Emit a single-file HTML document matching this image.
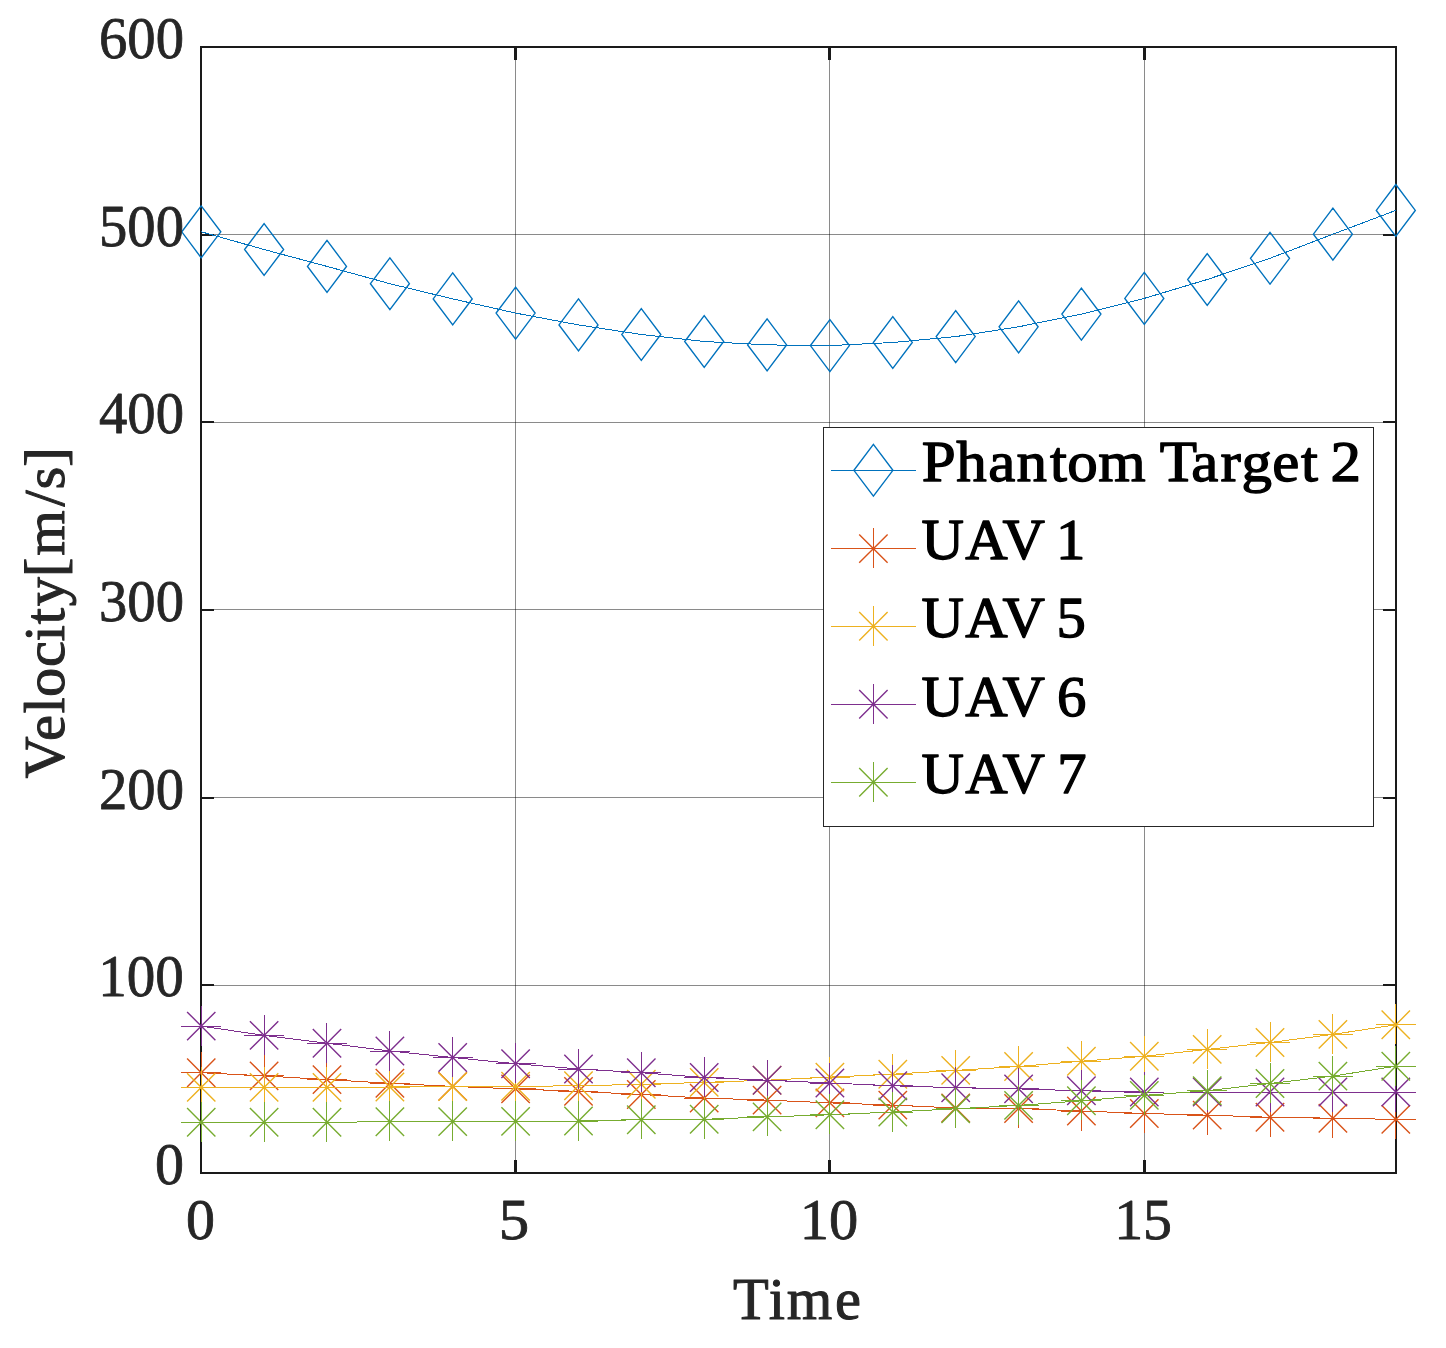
<!DOCTYPE html>
<html lang="en"><head><meta charset="utf-8"><title>Velocity vs Time</title>
<style>
html,body{margin:0;padding:0;background:#fff;}
body{width:1446px;height:1348px;overflow:hidden;}
svg{display:block;}
text{font-family:"Liberation Serif","DejaVu Serif",serif;}
.tk{fill:#262626;}
.lg{fill:#000;font-kerning:none;}
</style></head><body>
<svg width="1446" height="1348" viewBox="0 0 1446 1348">
<rect x="0" y="0" width="1446" height="1348" fill="#fff"/>
<g stroke="#000" stroke-opacity="0.46" stroke-width="1" fill="none">
<line x1="515.5" y1="47.0" x2="515.5" y2="1173.0"/>
<line x1="829.5" y1="47.0" x2="829.5" y2="1173.0"/>
<line x1="1144.5" y1="47.0" x2="1144.5" y2="1173.0"/>
<line x1="201.0" y1="985.5" x2="1396.0" y2="985.5"/>
<line x1="201.0" y1="797.5" x2="1396.0" y2="797.5"/>
<line x1="201.0" y1="609.5" x2="1396.0" y2="609.5"/>
<line x1="201.0" y1="422.5" x2="1396.0" y2="422.5"/>
<line x1="201.0" y1="234.5" x2="1396.0" y2="234.5"/>
</g>
<g stroke="#1a1a1a" fill="none">
<rect x="201.0" y="47.0" width="1195.0" height="1126.0" stroke-width="2"/>
<line x1="515.5" y1="1173.0" x2="515.5" y2="1160.0" stroke-width="3"/>
<line x1="515.5" y1="47.0" x2="515.5" y2="60.0" stroke-width="3"/>
<line x1="829.5" y1="1173.0" x2="829.5" y2="1160.0" stroke-width="3"/>
<line x1="829.5" y1="47.0" x2="829.5" y2="60.0" stroke-width="3"/>
<line x1="1144.5" y1="1173.0" x2="1144.5" y2="1160.0" stroke-width="3"/>
<line x1="1144.5" y1="47.0" x2="1144.5" y2="60.0" stroke-width="3"/>
<line x1="201.0" y1="985.0" x2="214.0" y2="985.0" stroke-width="2"/>
<line x1="1396.0" y1="985.0" x2="1383.0" y2="985.0" stroke-width="2"/>
<line x1="201.0" y1="798.0" x2="214.0" y2="798.0" stroke-width="2"/>
<line x1="1396.0" y1="798.0" x2="1383.0" y2="798.0" stroke-width="2"/>
<line x1="201.0" y1="610.0" x2="214.0" y2="610.0" stroke-width="2"/>
<line x1="1396.0" y1="610.0" x2="1383.0" y2="610.0" stroke-width="2"/>
<line x1="201.0" y1="422.0" x2="214.0" y2="422.0" stroke-width="2"/>
<line x1="1396.0" y1="422.0" x2="1383.0" y2="422.0" stroke-width="2"/>
<line x1="201.0" y1="235.0" x2="214.0" y2="235.0" stroke-width="2"/>
<line x1="1396.0" y1="235.0" x2="1383.0" y2="235.0" stroke-width="2"/>
</g>
<g stroke="#0072BD" fill="none" stroke-linejoin="miter" shape-rendering="crispEdges">
<polyline points="201.2,231.8 264.1,249.5 327.0,266.4 389.9,283.7 452.7,298.9 515.6,313.1 578.5,324.9 641.3,334.5 704.2,341.5 767.1,344.9 829.9,345.6 892.8,342.5 955.7,336.6 1018.6,326.8 1081.4,314.1 1144.3,298.4 1207.2,279.5 1270.0,258.3 1332.9,234.2 1395.8,210.4" stroke-width="1"/>
<path d="M201.2 205.9L220.8 231.8L201.2 257.8L181.8 231.8ZM264.1 223.6L283.6 249.5L264.1 275.4L244.6 249.5ZM327.0 240.4L346.5 266.4L327.0 292.3L307.5 266.4ZM389.9 257.8L409.4 283.7L389.9 309.6L370.4 283.7ZM452.7 272.9L472.2 298.9L452.7 324.8L433.2 298.9ZM515.6 287.2L535.1 313.1L515.6 339.1L496.1 313.1ZM578.5 298.9L598.0 324.9L578.5 350.8L559.0 324.9ZM641.3 308.6L660.8 334.5L641.3 360.4L621.8 334.5ZM704.2 315.6L723.7 341.5L704.2 367.4L684.7 341.5ZM767.1 318.9L786.6 344.9L767.1 370.8L747.6 344.9ZM829.9 319.7L849.4 345.6L829.9 371.6L810.4 345.6ZM892.8 316.6L912.3 342.5L892.8 368.4L873.3 342.5ZM955.7 310.7L975.2 336.6L955.7 362.6L936.2 336.6ZM1018.6 300.9L1038.1 326.8L1018.6 352.8L999.1 326.8ZM1081.4 288.2L1100.9 314.1L1081.4 340.1L1061.9 314.1ZM1144.3 272.4L1163.8 298.4L1144.3 324.3L1124.8 298.4ZM1207.2 253.6L1226.7 279.5L1207.2 305.4L1187.7 279.5ZM1270.0 232.4L1289.5 258.3L1270.0 284.2L1250.5 258.3ZM1332.9 208.2L1352.4 234.2L1332.9 260.1L1313.4 234.2ZM1395.8 184.5L1415.3 210.4L1395.8 236.3L1376.3 210.4Z" stroke-width="1.4" shape-rendering="geometricPrecision"/>
</g>
<g stroke="#D95319" fill="none" stroke-linejoin="miter" shape-rendering="crispEdges">
<polyline points="201.2,1072.7 264.1,1075.9 327.0,1079.6 389.9,1083.3 452.7,1086.4 515.6,1088.9 578.5,1091.4 641.3,1094.5 704.2,1098.1 767.1,1100.1 829.9,1102.9 892.8,1105.1 955.7,1108.0 1018.6,1108.5 1081.4,1111.0 1144.3,1113.5 1207.2,1115.1 1270.0,1117.3 1332.9,1118.2 1395.8,1119.4" stroke-width="1"/>
<path d="M181 1072.5H221M201.5 1052V1092M244 1075.5H284M264.5 1055V1095M307 1079.5H347M326.5 1059V1099M370 1083.5H410M389.5 1063V1103M433 1086.5H473M452.5 1066V1106M496 1088.5H536M515.5 1068V1108M558 1091.5H598M578.5 1071V1111M621 1094.5H661M641.5 1074V1114M684 1098.5H724M704.5 1078V1118M747 1100.5H787M767.5 1080V1120M810 1102.5H850M829.5 1082V1122M873 1105.5H913M892.5 1085V1125M936 1108.5H976M955.5 1088V1128M999 1108.5H1039M1018.5 1088V1128M1061 1111.5H1101M1081.5 1091V1131M1124 1113.5H1164M1144.5 1093V1133M1187 1115.5H1227M1207.5 1095V1135M1250 1117.5H1290M1270.5 1097V1137M1313 1118.5H1353M1332.5 1098V1138M1376 1119.5H1416M1395.5 1099V1139" stroke-width="1"/>
<path d="M187.1 1058.5L215.4 1086.9M187.1 1086.9L215.4 1058.5M249.9 1061.7L278.3 1090.1M249.9 1090.1L278.3 1061.7M312.8 1065.4L341.2 1093.8M312.8 1093.8L341.2 1065.4M375.7 1069.1L404.1 1097.5M375.7 1097.5L404.1 1069.1M438.5 1072.2L466.9 1100.6M438.5 1100.6L466.9 1072.2M501.4 1074.7L529.8 1103.1M501.4 1103.1L529.8 1074.7M564.3 1077.2L592.7 1105.6M564.3 1105.6L592.7 1077.2M627.1 1080.3L655.5 1108.7M627.1 1108.7L655.5 1080.3M690.0 1083.9L718.4 1112.3M690.0 1112.3L718.4 1083.9M752.9 1085.9L781.3 1114.3M752.9 1114.3L781.3 1085.9M815.7 1088.7L844.1 1117.1M815.7 1117.1L844.1 1088.7M878.6 1090.9L907.0 1119.3M878.6 1119.3L907.0 1090.9M941.5 1093.8L969.9 1122.2M941.5 1122.2L969.9 1093.8M1004.4 1094.3L1032.8 1122.7M1004.4 1122.7L1032.8 1094.3M1067.2 1096.8L1095.6 1125.2M1067.2 1125.2L1095.6 1096.8M1130.1 1099.3L1158.5 1127.7M1130.1 1127.7L1158.5 1099.3M1193.0 1100.9L1221.4 1129.3M1193.0 1129.3L1221.4 1100.9M1255.8 1103.1L1284.2 1131.5M1255.8 1131.5L1284.2 1103.1M1318.7 1104.0L1347.1 1132.4M1318.7 1132.4L1347.1 1104.0M1381.6 1105.2L1410.0 1133.6M1381.6 1133.6L1410.0 1105.2" stroke-width="1.4" shape-rendering="geometricPrecision"/>
</g>
<g stroke="#EDB120" fill="none" stroke-linejoin="miter" shape-rendering="crispEdges">
<polyline points="201.2,1087.4 264.1,1087.4 327.0,1087.4 389.9,1087.0 452.7,1086.6 515.6,1086.3 578.5,1085.8 641.3,1084.3 704.2,1082.4 767.1,1080.2 829.9,1077.1 892.8,1074.2 955.7,1070.4 1018.6,1066.5 1081.4,1061.2 1144.3,1056.3 1207.2,1049.4 1270.0,1042.5 1332.9,1034.4 1395.8,1024.8" stroke-width="1"/>
<path d="M181 1087.5H221M201.5 1067V1107M244 1087.5H284M264.5 1067V1107M307 1087.5H347M326.5 1067V1107M370 1087.5H410M389.5 1067V1107M433 1086.5H473M452.5 1066V1106M496 1086.5H536M515.5 1066V1106M558 1085.5H598M578.5 1065V1105M621 1084.5H661M641.5 1064V1104M684 1082.5H724M704.5 1062V1102M747 1080.5H787M767.5 1060V1100M810 1077.5H850M829.5 1057V1097M873 1074.5H913M892.5 1054V1094M936 1070.5H976M955.5 1050V1090M999 1066.5H1039M1018.5 1046V1086M1061 1061.5H1101M1081.5 1041V1081M1124 1056.5H1164M1144.5 1036V1076M1187 1049.5H1227M1207.5 1029V1069M1250 1042.5H1290M1270.5 1022V1062M1313 1034.5H1353M1332.5 1014V1054M1376 1024.5H1416M1395.5 1004V1044" stroke-width="1"/>
<path d="M187.1 1073.2L215.4 1101.6M187.1 1101.6L215.4 1073.2M249.9 1073.2L278.3 1101.6M249.9 1101.6L278.3 1073.2M312.8 1073.2L341.2 1101.6M312.8 1101.6L341.2 1073.2M375.7 1072.8L404.1 1101.2M375.7 1101.2L404.1 1072.8M438.5 1072.4L466.9 1100.8M438.5 1100.8L466.9 1072.4M501.4 1072.1L529.8 1100.5M501.4 1100.5L529.8 1072.1M564.3 1071.6L592.7 1100.0M564.3 1100.0L592.7 1071.6M627.1 1070.1L655.5 1098.5M627.1 1098.5L655.5 1070.1M690.0 1068.2L718.4 1096.6M690.0 1096.6L718.4 1068.2M752.9 1066.0L781.3 1094.4M752.9 1094.4L781.3 1066.0M815.7 1062.9L844.1 1091.3M815.7 1091.3L844.1 1062.9M878.6 1060.0L907.0 1088.4M878.6 1088.4L907.0 1060.0M941.5 1056.2L969.9 1084.6M941.5 1084.6L969.9 1056.2M1004.4 1052.3L1032.8 1080.7M1004.4 1080.7L1032.8 1052.3M1067.2 1047.0L1095.6 1075.4M1067.2 1075.4L1095.6 1047.0M1130.1 1042.1L1158.5 1070.5M1130.1 1070.5L1158.5 1042.1M1193.0 1035.2L1221.4 1063.6M1193.0 1063.6L1221.4 1035.2M1255.8 1028.3L1284.2 1056.7M1255.8 1056.7L1284.2 1028.3M1318.7 1020.2L1347.1 1048.6M1318.7 1048.6L1347.1 1020.2M1381.6 1010.6L1410.0 1039.0M1381.6 1039.0L1410.0 1010.6" stroke-width="1.4" shape-rendering="geometricPrecision"/>
</g>
<g stroke="#7E2F8E" fill="none" stroke-linejoin="miter" shape-rendering="crispEdges">
<polyline points="201.2,1026.1 264.1,1035.4 327.0,1043.2 389.9,1051.0 452.7,1057.5 515.6,1063.7 578.5,1069.0 641.3,1072.7 704.2,1077.5 767.1,1080.2 829.9,1083.0 892.8,1085.8 955.7,1087.7 1018.6,1088.9 1081.4,1090.8 1144.3,1092.0 1207.2,1092.0 1270.0,1092.0 1332.9,1092.0 1395.8,1092.0" stroke-width="1"/>
<path d="M181 1026.5H221M201.5 1006V1046M244 1035.5H284M264.5 1015V1055M307 1043.5H347M326.5 1023V1063M370 1051.5H410M389.5 1031V1071M433 1057.5H473M452.5 1037V1077M496 1063.5H536M515.5 1043V1083M558 1069.5H598M578.5 1049V1089M621 1072.5H661M641.5 1052V1092M684 1077.5H724M704.5 1057V1097M747 1080.5H787M767.5 1060V1100M810 1083.5H850M829.5 1063V1103M873 1085.5H913M892.5 1065V1105M936 1087.5H976M955.5 1067V1107M999 1088.5H1039M1018.5 1068V1108M1061 1090.5H1101M1081.5 1070V1110M1124 1092.5H1164M1144.5 1072V1112M1187 1092.5H1227M1207.5 1072V1112M1250 1092.5H1290M1270.5 1072V1112M1313 1092.5H1353M1332.5 1072V1112M1376 1092.5H1416M1395.5 1072V1112" stroke-width="1"/>
<path d="M187.1 1011.9L215.4 1040.3M187.1 1040.3L215.4 1011.9M249.9 1021.2L278.3 1049.6M249.9 1049.6L278.3 1021.2M312.8 1029.0L341.2 1057.4M312.8 1057.4L341.2 1029.0M375.7 1036.8L404.1 1065.2M375.7 1065.2L404.1 1036.8M438.5 1043.3L466.9 1071.7M438.5 1071.7L466.9 1043.3M501.4 1049.5L529.8 1077.9M501.4 1077.9L529.8 1049.5M564.3 1054.8L592.7 1083.2M564.3 1083.2L592.7 1054.8M627.1 1058.5L655.5 1086.9M627.1 1086.9L655.5 1058.5M690.0 1063.3L718.4 1091.7M690.0 1091.7L718.4 1063.3M752.9 1066.0L781.3 1094.4M752.9 1094.4L781.3 1066.0M815.7 1068.8L844.1 1097.2M815.7 1097.2L844.1 1068.8M878.6 1071.6L907.0 1100.0M878.6 1100.0L907.0 1071.6M941.5 1073.5L969.9 1101.9M941.5 1101.9L969.9 1073.5M1004.4 1074.7L1032.8 1103.1M1004.4 1103.1L1032.8 1074.7M1067.2 1076.6L1095.6 1105.0M1067.2 1105.0L1095.6 1076.6M1130.1 1077.8L1158.5 1106.2M1130.1 1106.2L1158.5 1077.8M1193.0 1077.8L1221.4 1106.2M1193.0 1106.2L1221.4 1077.8M1255.8 1077.8L1284.2 1106.2M1255.8 1106.2L1284.2 1077.8M1318.7 1077.8L1347.1 1106.2M1318.7 1106.2L1347.1 1077.8M1381.6 1077.8L1410.0 1106.2M1381.6 1106.2L1410.0 1077.8" stroke-width="1.4" shape-rendering="geometricPrecision"/>
</g>
<g stroke="#77AC30" fill="none" stroke-linejoin="miter" shape-rendering="crispEdges">
<polyline points="201.2,1122.2 264.1,1122.2 327.0,1122.2 389.9,1121.8 452.7,1121.6 515.6,1121.4 578.5,1121.0 641.3,1119.7 704.2,1119.3 767.1,1116.9 829.9,1114.8 892.8,1112.0 955.7,1108.8 1018.6,1105.4 1081.4,1100.8 1144.3,1095.4 1207.2,1090.7 1270.0,1083.5 1332.9,1076.1 1395.8,1066.2" stroke-width="1"/>
<path d="M181 1122.5H221M201.5 1102V1142M244 1122.5H284M264.5 1102V1142M307 1122.5H347M326.5 1102V1142M370 1121.5H410M389.5 1101V1141M433 1121.5H473M452.5 1101V1141M496 1121.5H536M515.5 1101V1141M558 1121.5H598M578.5 1101V1141M621 1119.5H661M641.5 1099V1139M684 1119.5H724M704.5 1099V1139M747 1116.5H787M767.5 1096V1136M810 1114.5H850M829.5 1094V1134M873 1112.5H913M892.5 1092V1132M936 1108.5H976M955.5 1088V1128M999 1105.5H1039M1018.5 1085V1125M1061 1100.5H1101M1081.5 1080V1120M1124 1095.5H1164M1144.5 1075V1115M1187 1090.5H1227M1207.5 1070V1110M1250 1083.5H1290M1270.5 1063V1103M1313 1076.5H1353M1332.5 1056V1096M1376 1066.5H1416M1395.5 1046V1086" stroke-width="1"/>
<path d="M187.1 1108.0L215.4 1136.4M187.1 1136.4L215.4 1108.0M249.9 1108.0L278.3 1136.4M249.9 1136.4L278.3 1108.0M312.8 1108.0L341.2 1136.4M312.8 1136.4L341.2 1108.0M375.7 1107.6L404.1 1136.0M375.7 1136.0L404.1 1107.6M438.5 1107.4L466.9 1135.8M438.5 1135.8L466.9 1107.4M501.4 1107.2L529.8 1135.6M501.4 1135.6L529.8 1107.2M564.3 1106.8L592.7 1135.2M564.3 1135.2L592.7 1106.8M627.1 1105.5L655.5 1133.9M627.1 1133.9L655.5 1105.5M690.0 1105.1L718.4 1133.5M690.0 1133.5L718.4 1105.1M752.9 1102.7L781.3 1131.1M752.9 1131.1L781.3 1102.7M815.7 1100.6L844.1 1129.0M815.7 1129.0L844.1 1100.6M878.6 1097.8L907.0 1126.2M878.6 1126.2L907.0 1097.8M941.5 1094.6L969.9 1123.0M941.5 1123.0L969.9 1094.6M1004.4 1091.2L1032.8 1119.6M1004.4 1119.6L1032.8 1091.2M1067.2 1086.6L1095.6 1115.0M1067.2 1115.0L1095.6 1086.6M1130.1 1081.2L1158.5 1109.6M1130.1 1109.6L1158.5 1081.2M1193.0 1076.5L1221.4 1104.9M1193.0 1104.9L1221.4 1076.5M1255.8 1069.3L1284.2 1097.7M1255.8 1097.7L1284.2 1069.3M1318.7 1061.9L1347.1 1090.3M1318.7 1090.3L1347.1 1061.9M1381.6 1052.0L1410.0 1080.4M1381.6 1080.4L1410.0 1052.0" stroke-width="1.4" shape-rendering="geometricPrecision"/>
</g>
<rect x="823.5" y="427.5" width="550.0" height="399.0" fill="#fff" stroke="#262626" stroke-width="1"/>
<g stroke="#0072BD" fill="none" shape-rendering="crispEdges">
<line x1="831" y1="470.5" x2="916" y2="470.5" stroke-width="1"/>
<path d="M873.4 444.4L892.9 470.3L873.4 496.2L853.9 470.3Z" stroke-width="1.4" shape-rendering="geometricPrecision"/>
</g>
<g stroke="#D95319" fill="none" shape-rendering="crispEdges">
<line x1="831" y1="548.5" x2="916" y2="548.5" stroke-width="1"/>
<path d="M853 548.5H893M873.5 528V568" stroke-width="1"/>
<path d="M859.2 534.4L887.6 562.8M859.2 562.8L887.6 534.4" stroke-width="1.4" shape-rendering="geometricPrecision"/>
</g>
<g stroke="#EDB120" fill="none" shape-rendering="crispEdges">
<line x1="831" y1="626.5" x2="916" y2="626.5" stroke-width="1"/>
<path d="M853 626.5H893M873.5 606V646" stroke-width="1"/>
<path d="M859.2 612.1L887.6 640.5M859.2 640.5L887.6 612.1" stroke-width="1.4" shape-rendering="geometricPrecision"/>
</g>
<g stroke="#7E2F8E" fill="none" shape-rendering="crispEdges">
<line x1="831" y1="704.5" x2="916" y2="704.5" stroke-width="1"/>
<path d="M853 704.5H893M873.5 684V724" stroke-width="1"/>
<path d="M859.2 690.1L887.6 718.5M859.2 718.5L887.6 690.1" stroke-width="1.4" shape-rendering="geometricPrecision"/>
</g>
<g stroke="#77AC30" fill="none" shape-rendering="crispEdges">
<line x1="831" y1="782.5" x2="916" y2="782.5" stroke-width="1"/>
<path d="M853 782.5H893M873.5 762V802" stroke-width="1"/>
<path d="M859.2 768.1L887.6 796.5M859.2 796.5L887.6 768.1" stroke-width="1.4" shape-rendering="geometricPrecision"/>
</g>
<text class="tk" y="58.10" font-size="58.5" stroke="#262626" stroke-width="0.80" stroke-linejoin="round"><tspan x="99.03" textLength="84.93" lengthAdjust="spacingAndGlyphs">600</tspan></text>
<text class="tk" y="245.72" font-size="58.5" stroke="#262626" stroke-width="0.80" stroke-linejoin="round"><tspan x="99.03" textLength="84.93" lengthAdjust="spacingAndGlyphs">500</tspan></text>
<text class="tk" y="433.33" font-size="58.5" stroke="#262626" stroke-width="0.80" stroke-linejoin="round"><tspan x="99.03" textLength="84.93" lengthAdjust="spacingAndGlyphs">400</tspan></text>
<text class="tk" y="620.95" font-size="58.5" stroke="#262626" stroke-width="0.80" stroke-linejoin="round"><tspan x="99.03" textLength="84.93" lengthAdjust="spacingAndGlyphs">300</tspan></text>
<text class="tk" y="808.57" font-size="58.5" stroke="#262626" stroke-width="0.80" stroke-linejoin="round"><tspan x="99.03" textLength="84.93" lengthAdjust="spacingAndGlyphs">200</tspan></text>
<text class="tk" y="996.18" font-size="58.5" stroke="#262626" stroke-width="0.80" stroke-linejoin="round"><tspan x="98.23" textLength="85.65" lengthAdjust="spacingAndGlyphs">100</tspan></text>
<text class="tk" y="1183.80" font-size="58.5" stroke="#262626" stroke-width="0.80" stroke-linejoin="round"><tspan x="154.94" textLength="29.00" lengthAdjust="spacingAndGlyphs">0</tspan></text>
<text class="tk" y="1239.20" font-size="58.0" stroke="#262626" stroke-width="0.80" stroke-linejoin="round"><tspan x="185.98" textLength="28.94" lengthAdjust="spacingAndGlyphs">0</tspan></text>
<text class="tk" y="1239.20" font-size="58.0" stroke="#262626" stroke-width="0.80" stroke-linejoin="round"><tspan x="498.86" textLength="30.44" lengthAdjust="spacingAndGlyphs">5</tspan></text>
<text class="tk" y="1239.20" font-size="58.0" stroke="#262626" stroke-width="0.80" stroke-linejoin="round"><tspan x="799.81" textLength="58.43" lengthAdjust="spacingAndGlyphs">10</tspan></text>
<text class="tk" y="1239.20" font-size="58.0" stroke="#262626" stroke-width="0.80" stroke-linejoin="round"><tspan x="1114.16" textLength="57.90" lengthAdjust="spacingAndGlyphs">15</tspan></text>
<text class="tk" y="1318.80" font-size="58.5" stroke="#262626" stroke-width="1.00" stroke-linejoin="round"><tspan x="733.04 768.82 786.64 835.04">Time</tspan></text>
<text class="lg" y="0" font-size="57.0" stroke="#000" stroke-width="1.30" stroke-linejoin="round" transform="translate(0 480.70) scale(1.07 1)"><tspan x="861.39 893.70 923.70 950.01 981.27 997.39 1026.51 1070.84 1083.95 1113.37 1140.56 1160.35 1188.91 1215.85 1231.87 1243.55">Phantom Target 2</tspan></text>
<text class="lg" y="0" font-size="57.0" stroke="#000" stroke-width="1.30" stroke-linejoin="round" transform="translate(0 558.60) scale(1.03 1)"><tspan x="894.78 937.16 973.20 1012.82 1025.25">UAV 1</tspan></text>
<text class="lg" y="0" font-size="57.0" stroke="#000" stroke-width="1.30" stroke-linejoin="round" transform="translate(0 637.00) scale(1.03 1)"><tspan x="894.78 937.16 973.20 1012.82 1025.69">UAV 5</tspan></text>
<text class="lg" y="0" font-size="57.0" stroke="#000" stroke-width="1.30" stroke-linejoin="round" transform="translate(0 715.60) scale(1.03 1)"><tspan x="894.78 937.16 973.20 1012.82 1026.15">UAV 6</tspan></text>
<text class="lg" y="0" font-size="57.0" stroke="#000" stroke-width="1.30" stroke-linejoin="round" transform="translate(0 793.40) scale(1.03 1)"><tspan x="894.78 937.16 973.20 1012.82 1026.54">UAV 7</tspan></text>
<text class="tk" y="0" font-size="58.5" stroke="#262626" stroke-width="1.00" stroke-linejoin="round" transform="translate(63.60 0) rotate(-90) scale(1 0.985)"><tspan x="-778.62 -741.01 -713.53 -697.02 -667.10 -641.58 -624.24 -606.22 -576.95 -555.71 -506.38 -489.48 -466.63">Velocity[m/s]</tspan></text>
</svg></body></html>
